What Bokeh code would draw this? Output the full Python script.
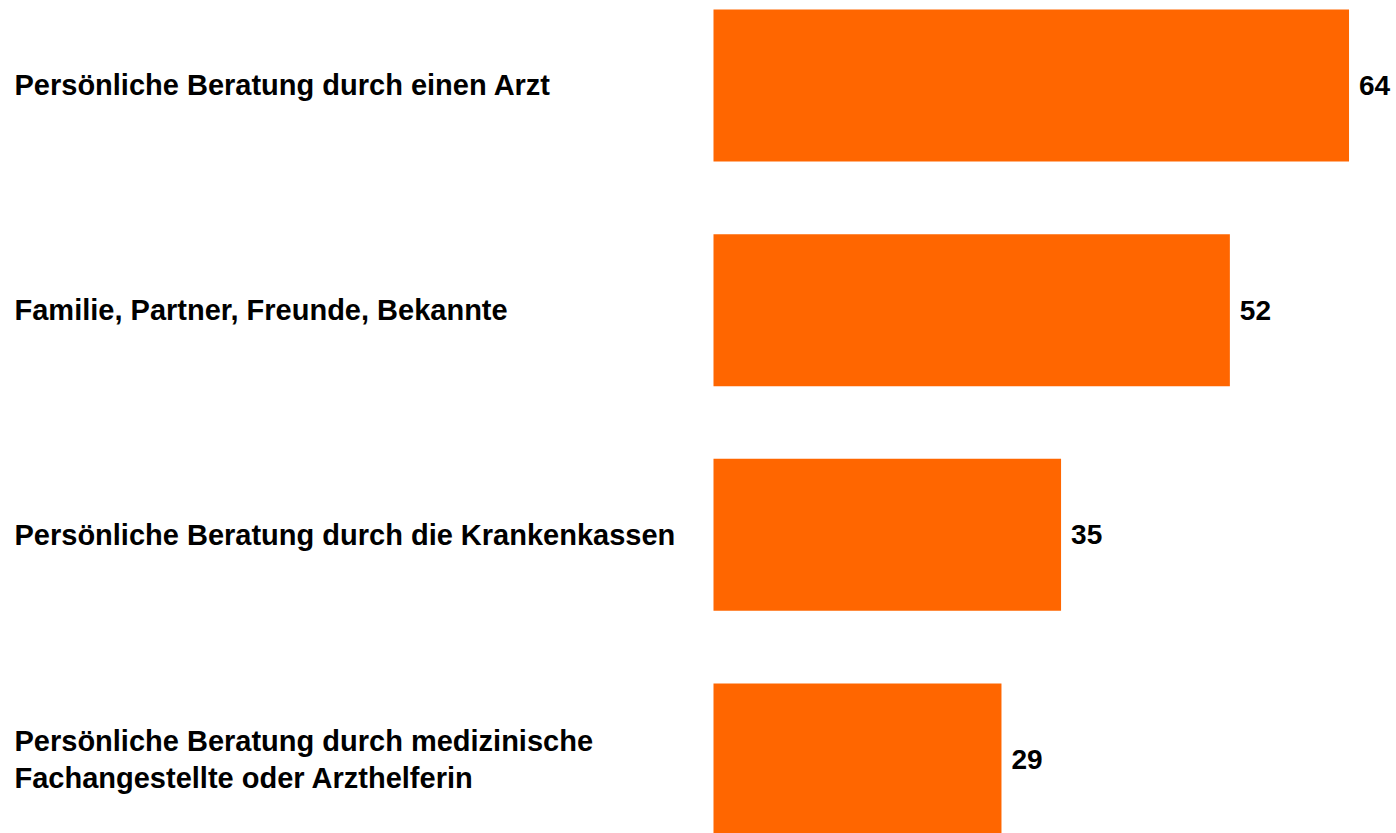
from bokeh.plotting import figure
from bokeh.models import Range1d, ColumnDataSource
from bokeh.core.properties import value
from bokeh.embed import file_html
from bokeh.resources import INLINE

categories = [
    "Persönliche Beratung durch einen Arzt",
    "Familie, Partner, Freunde, Bekannte",
    "Persönliche Beratung durch die Krankenkassen",
    "Persönliche Beratung durch medizinische\nFachangestellte oder Arzthelferin",
]
values = [64, 52, 35, 29]
value_labels = [str(v) for v in values]

pos = list(range(len(categories)))
src = ColumnDataSource(dict(cat=categories, val=values, lab=value_labels, y=pos))

W, H = 1396, 833
p = figure(width=W, height=H, output_backend="svg", toolbar_location=None,
           x_range=Range1d(-71.80, 68.78), y_range=Range1d(3.3293, -0.3783),
           min_border=0, outline_line_color=None)
p.axis.visible = False
p.grid.visible = False
p.background_fill_color = "white"
p.border_fill_color = "white"

p.hbar(y="y", left=0, right="val", height=0.6766, source=src,
       fill_color="#FF6600", line_color=None)

FONT = value("Liberation Sans")
p.text(x=-70.39, y="y", text="cat", source=src, text_font=FONT,
       text_font_style="bold", text_font_size="29px", text_color="black",
       text_align="left", text_baseline="middle", text_line_height=1.17)
p.text(x="val", y="y", text="lab", source=src, text_font=FONT, x_offset=10,
       text_font_style="bold", text_font_size="28px", text_color="black",
       text_align="left", text_baseline="middle")

open("out.html", "w").write(file_html(p, INLINE))
